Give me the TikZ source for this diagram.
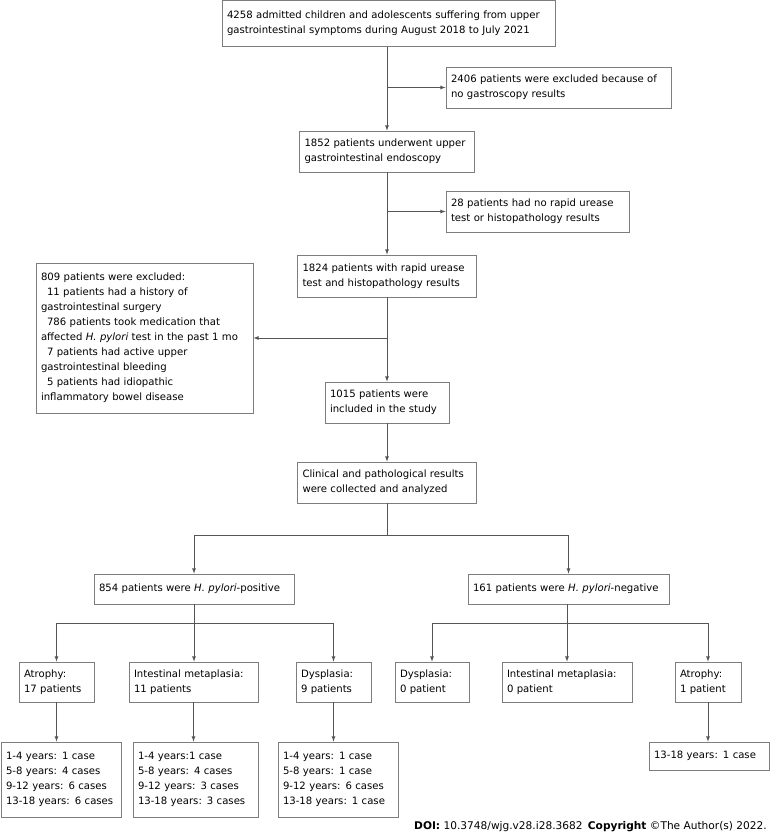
\documentclass[tikz,border=0pt]{standalone}
\usepackage{fontspec}
\setmainfont{DejaVu Sans}
\usetikzlibrary{arrows}

\definecolor{boxgray}{RGB}{125,125,125}
\definecolor{linegray}{RGB}{85,85,85}
\tikzset{
  box/.style={draw=boxgray, line width=0.8pt, align=left, inner xsep=5pt, inner ysep=0pt,
    font=\fontsize{10.1}{15}\selectfont, execute at begin node={\hyphenpenalty=10000}},
  link/.style={draw=linegray, line width=0.8pt, -latex},
  plain/.style={draw=linegray, line width=0.8pt},
}
\newcommand{\hp}{\textit{H. pylori}}

\begin{document}
\begin{tikzpicture}[x=1pt, y=-1pt]
    \useasboundingbox (0,0) rectangle (770,837);

    % main column
    \node[box, text width=323pt, minimum height=46pt] (top) at (388.5,23.5)
        {4258 admitted children and adolescents suffering from upper\\gastrointestinal symptoms during August 2018 to July 2021};
    \node[box, text width=215pt, minimum height=41pt] (excla) at (558.5,87.5)
        {2406 patients were excluded because of\\no gastroscopy results};
    \node[box, text width=165pt, minimum height=41pt] (endo) at (387,151.5)
        {1852 patients underwent upper\\gastrointestinal endoscopy};
    \node[box, text width=173pt, minimum height=41pt] (exclb) at (537.5,211.5)
        {28 patients had no rapid urease\\test or histopathology results};
    \node[box, text width=169pt, minimum height=42pt] (rut) at (387,276)
        {1824 patients with rapid urease\\test and histopathology results};
    \node[box, text width=207pt, minimum height=150pt] (exclc) at (144.5,338)
        {809 patients were excluded:\\
        \hspace*{6pt}11 patients had a history of\\gastrointestinal surgery\\
        \hspace*{6pt}786 patients took medication that\\affected \hp{} test in the past 1 mo\\
        \hspace*{6pt}7 patients had active upper\\gastrointestinal bleeding\\
        \hspace*{6pt}5 patients had idiopathic\\inflammatory bowel disease};
    \node[box, text width=114pt, minimum height=41pt] (incl) at (387,402.5)
        {1015 patients were\\included in the study};
    \node[box, text width=169pt, minimum height=41pt] (clin) at (387,482.5)
        {Clinical and pathological results\\were collected and analyzed};

    % H. pylori groups
    \node[box, text width=190pt, minimum height=30pt] (pos) at (194,589)
        {854 patients were \hp-positive};
    \node[box, text width=191pt, minimum height=30pt] (neg) at (568.5,589)
        {161 patients were \hp-negative};

    \node[box, text width=65pt, minimum height=40pt] (atrop) at (56.5,682)
        {Atrophy:\\17 patients};
    \node[box, text width=119pt, minimum height=40pt] (metap) at (193.5,682)
        {Intestinal metaplasia:\\11 patients};
    \node[box, text width=65pt, minimum height=40pt] (dysp) at (333.5,682)
        {Dysplasia:\\9 patients};
    \node[box, text width=64pt, minimum height=40pt] (dysn) at (432,682)
        {Dysplasia:\\0 patient};
    \node[box, text width=120pt, minimum height=40pt] (metan) at (567,682)
        {Intestinal metaplasia:\\0 patient};
    \node[box, text width=56pt, minimum height=40pt] (atron) at (708,682)
        {Atrophy:\\1 patient};

    % age groups
    \node[box, text width=110pt, minimum height=75pt] (agesa) at (61,779.5)
        {1-4 years: 1 case\\5-8 years: 4 cases\\9-12 years: 6 cases\\13-18 years: 6 cases};
    \node[box, text width=115pt, minimum height=75pt] (agesb) at (195.5,779.5)
        {1-4 years:1 case\\5-8 years: 4 cases\\9-12 years: 3 cases\\13-18 years: 3 cases};
    \node[box, text width=110pt, minimum height=75pt] (agesc) at (338,779.5)
        {1-4 years: 1 case\\5-8 years: 1 case\\9-12 years: 6 cases\\13-18 years: 1 case};
    \node[box, text width=110pt, minimum height=28pt] (agesd) at (709,756)
        {13-18 years: 1 case};

    \node[anchor=east, inner sep=0pt, font=\fontsize{10.6}{12}\selectfont] (doi) at (767,827)
        {\textbf{DOI:} 10.3748/wjg.v28.i28.3682\enspace\textbf{Copyright} ©The Author(s) 2022.};

    % connectors
    \draw[link] (endo |- top.south) -- (endo);
    \draw[link] (endo |- excla) -- (excla);
    \draw[link] (endo) -- (rut);
    \draw[link] (endo |- exclb) -- (exclb);
    \draw[link] (rut) -- (incl);
    \draw[link] (rut |- 0,338) -- (exclc);
    \draw[link] (incl) -- (clin);

    \coordinate (split) at (387,535);
    \draw[plain] (clin) -- (split);
    \draw[link] (split) -| (pos);
    \draw[link] (split) -| (neg);

    \coordinate (psplit) at (194,623);
    \draw[plain] (pos) -- (psplit);
    \draw[link] (psplit) -- (psplit |- metap.north);
    \draw[link] (psplit) -| (atrop);
    \draw[link] (psplit) -| (dysp);

    \coordinate (nsplit) at (567,623);
    \draw[plain] (nsplit |- neg.south) -- (nsplit);
    \draw[link] (nsplit) -- (metan);
    \draw[link] (nsplit) -| (dysn);
    \draw[link] (nsplit) -| (atron);

    \draw[link] (atrop.south) -- (atrop.south |- agesa.north);
    \draw[link] (metap.south) -- (metap.south |- agesb.north);
    \draw[link] (dysp.south) -- (dysp.south |- agesc.north);
    \draw[link] (atron.south) -- (atron.south |- agesd.north);
\end{tikzpicture}
\end{document}
